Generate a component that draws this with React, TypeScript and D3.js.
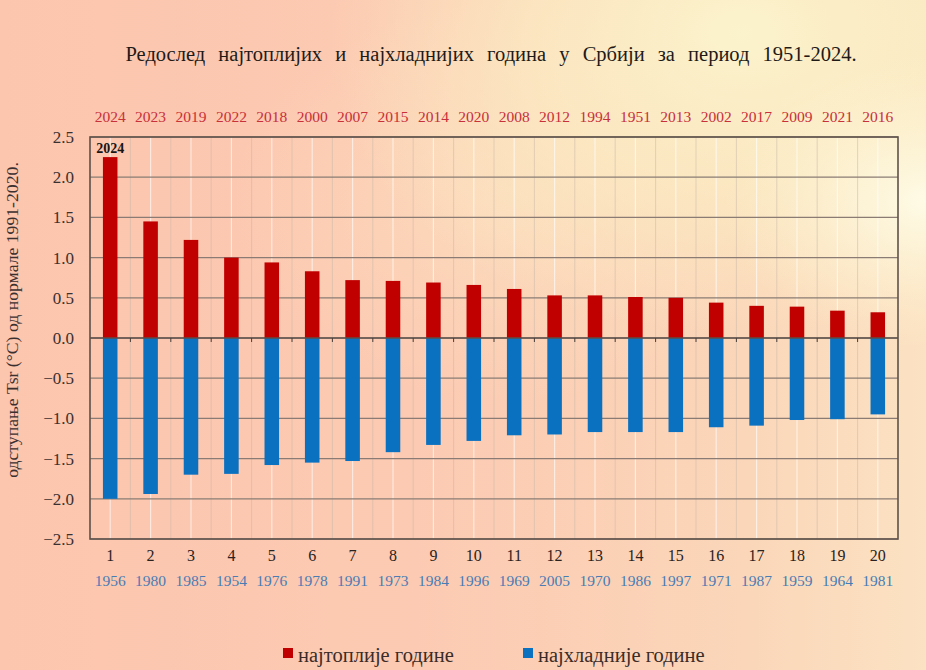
import React from "react";
import * as d3 from "d3";

const ranks = ["1","2","3","4","5","6","7","8","9","10","11","12","13","14","15","16","17","18","19","20"];
const warmYears = ["2024","2023","2019","2022","2018","2000","2007","2015","2014","2020","2008","2012","1994","1951","2013","2002","2017","2009","2021","2016"];
const coldYears = ["1956","1980","1985","1954","1976","1978","1991","1973","1984","1996","1969","2005","1970","1986","1997","1971","1987","1959","1964","1981"];
const warmValues = [2.25,1.45,1.22,1.0,0.94,0.83,0.72,0.71,0.69,0.66,0.61,0.53,0.53,0.51,0.5,0.44,0.4,0.39,0.34,0.32];
const coldValues = [-2.0,-1.94,-1.7,-1.69,-1.58,-1.55,-1.53,-1.42,-1.33,-1.28,-1.21,-1.2,-1.17,-1.17,-1.17,-1.11,-1.09,-1.02,-1.01,-0.95];
const yTicks = [2.5,2.0,1.5,1.0,0.5,0.0,-0.5,-1.0,-1.5,-2.0,-2.5];

const W = 926, H = 670;
const M = { left: 90, right: 898, top: 137, bottom: 539 };
const FONT = "'Liberation Serif', 'Times New Roman', serif";

export default function App() {
  const x = d3.scaleBand().domain(ranks).range([M.left, M.right]).paddingInner(0).paddingOuter(0);
  const y = d3.scaleLinear().domain([-2.5, 2.5]).range([M.bottom, M.top]);
  const bw = x.bandwidth() * 0.36;
  const cx = (r: string) => (x(r) as number) + x.bandwidth() / 2;

  return (
    <div style={{ position: "absolute", left: 0, top: 0, width: W, height: H, overflow: "hidden" }}>
      <svg width={W} height={H} style={{ display: "block" }}>
        <defs>
          <linearGradient id="bg" x1="0" y1="0" x2="1" y2="0">
            <stop offset="0" stopColor="#fcc5ae" />
            <stop offset="0.45" stopColor="#fccab2" />
            <stop offset="0.8" stopColor="#fbd6b9" />
            <stop offset="1" stopColor="#fbe2c2" />
          </linearGradient>
          <radialGradient id="glow1" cx="0.8" cy="0.05" r="0.45">
            <stop offset="0" stopColor="#fbf3cc" stopOpacity="1" />
            <stop offset="0.5" stopColor="#fbeec4" stopOpacity="0.7" />
            <stop offset="1" stopColor="#fbeec4" stopOpacity="0" />
          </radialGradient>
          <radialGradient id="glow2" cx="1" cy="0.3" r="0.22">
            <stop offset="0" stopColor="#fefbe6" stopOpacity="1" />
            <stop offset="1" stopColor="#fdf3d0" stopOpacity="0" />
          </radialGradient>
          <radialGradient id="glow3" cx="0.55" cy="0.3" r="0.3">
            <stop offset="0" stopColor="#fce4c2" stopOpacity="0.6" />
            <stop offset="1" stopColor="#fce4c2" stopOpacity="0" />
          </radialGradient>
        </defs>
        <rect x={0} y={0} width={W} height={H} fill="url(#bg)" />
        <rect x={0} y={0} width={W} height={H} fill="url(#glow3)" />
        <rect x={0} y={0} width={W} height={H} fill="url(#glow1)" />
        <rect x={0} y={0} width={W} height={H} fill="url(#glow2)" />

        {/* title */}
        <text x={491} y={61} textAnchor="middle" fontFamily={FONT} fontSize={20.5} fill="#1e1a18" style={{ wordSpacing: "8px" }}>
          Редослед најтоплијих и најхладнијих година у Србији за период 1951-2024.
        </text>

        {/* vertical grid: boundaries (grey) and centers (white) */}
        {ranks.map((r) => (
          <line key={"vb" + r} x1={x(r) as number} x2={x(r) as number} y1={M.top} y2={M.bottom} stroke="#c8b8a8" strokeOpacity={0.5} strokeWidth={1} />
        ))}
        {ranks.map((r) => (
          <line key={"vc" + r} x1={cx(r)} x2={cx(r)} y1={M.top} y2={M.bottom} stroke="#ffffff" strokeOpacity={0.6} strokeWidth={1.2} />
        ))}

        {/* horizontal grid */}
        {yTicks.map((t) => (
          <line key={"h" + t} x1={M.left} x2={M.right} y1={y(t)} y2={y(t)} stroke="#8a7c74" strokeWidth={1.2} />
        ))}

        {/* bars */}
        {ranks.map((r, i) => (
          <rect key={"w" + r} x={cx(r) - bw / 2} width={bw} y={y(warmValues[i])} height={y(0) - y(warmValues[i])} fill="#c00000" />
        ))}
        {ranks.map((r, i) => (
          <rect key={"c" + r} x={cx(r) - bw / 2} width={bw} y={y(0)} height={y(coldValues[i]) - y(0)} fill="#0a70c0" />
        ))}

        {/* zero line ticks */}
        <line x1={M.left} x2={M.right} y1={y(0)} y2={y(0)} stroke="#5a4e48" strokeWidth={1.3} />
        {ranks.slice(1).map((r) => (
          <line key={"t" + r} x1={x(r) as number} x2={x(r) as number} y1={y(0)} y2={y(0) + 4} stroke="#4a3e38" strokeWidth={1} />
        ))}

        {/* frame */}
        <rect x={M.left} y={M.top} width={M.right - M.left} height={M.bottom - M.top} fill="none" stroke="#5e524a" strokeWidth={1.6} />

        {/* y tick labels */}
        {yTicks.map((t) => (
          <text key={"yl" + t} x={74} y={y(t) + 6} textAnchor="end" fontFamily={FONT} fontSize={17} fill="#3a3030">
            {d3.format(".1f")(t)}
          </text>
        ))}
        <text transform={`translate(18,320) rotate(-90)`} textAnchor="middle" fontFamily={FONT} fontSize={17.7} fill="#3a3030">
          одступање Tsr (°C) од нормале 1991-2020.
        </text>

        {/* top year labels */}
        {ranks.map((r, i) => (
          <text key={"wy" + r} x={cx(r)} y={122} textAnchor="middle" fontFamily={FONT} fontSize={15.5} fill="#c8303a">
            {warmYears[i]}
          </text>
        ))}
        <text x={cx(ranks[0])} y={153} textAnchor="middle" fontFamily={FONT} fontSize={14} fontWeight="bold" fill="#1a1412">
          {warmYears[0]}
        </text>

        {/* rank labels */}
        {ranks.map((r) => (
          <text key={"rk" + r} x={cx(r)} y={561} textAnchor="middle" fontFamily={FONT} fontSize={16} fill="#2a2220">
            {r}
          </text>
        ))}
        {/* cold year labels */}
        {ranks.map((r, i) => (
          <text key={"cy" + r} x={cx(r)} y={586} textAnchor="middle" fontFamily={FONT} fontSize={15.5} fill="#4a7cb4">
            {coldYears[i]}
          </text>
        ))}

        {/* legend */}
        <rect x={283} y={648} width={10} height={10} fill="#c00000" />
        <text x={298} y={662} fontFamily={FONT} fontSize={20.5} fill="#3a2c28">најтоплије године</text>
        <rect x={523} y={648} width={10} height={10} fill="#0a70c0" />
        <text x={538} y={662} fontFamily={FONT} fontSize={20.5} fill="#3a2c28">најхладније године</text>
      </svg>
    </div>
  );
}
